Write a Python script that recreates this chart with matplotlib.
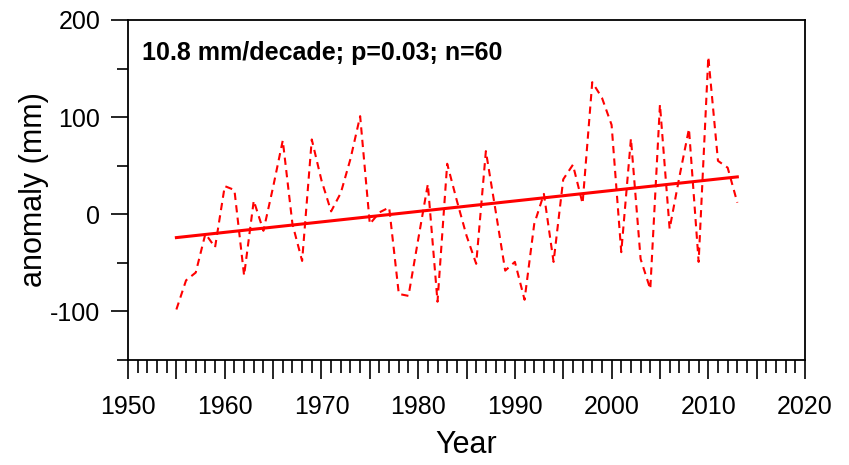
import numpy as np
import matplotlib
matplotlib.use("Agg")
import matplotlib.pyplot as plt
from matplotlib.ticker import MultipleLocator, FuncFormatter

plt.rcParams['font.family'] = ['Liberation Sans', 'DejaVu Sans']
plt.rcParams['axes.unicode_minus'] = False

# --- DATA ---
years: list[int] = list(range(1955, 2014))
anomaly: list[float] = [
    -98, -68, -60, -20, -34, 29, 25, -63, 14, -17,
    28, 76, -10, -48, 77, 35, 3, 22, 57, 101,
    -10, 2, 7, -82, -84, -26, 31, -90, 52, 14,
    -22, -51, 65, 4, -58, -49, -88, -10, 21, -49,
    36, 51, 11, 136, 120, 92, -39, 78, -46, -77,
    113, -15, 38, 88, -49, 162, 55, 48, 12,
]
trend_years: list[int] = [1955, 2013]
trend_values: list[float] = [-24, 38.5]
label_text: str = "10.8 mm/decade; p=0.03; n=60"

# --- PLOTTING ---
fig = plt.figure(figsize=(8.49, 4.65), dpi=100)
ax = fig.add_axes([0.1508, 0.2258, 0.7974, 0.7312])

ax.plot(years, anomaly, color='red', lw=1.5, linestyle=(0, (3.5, 2.5)))
ax.plot(trend_years, trend_values, color='red', lw=2.2)

ax.set_xlim(1950, 2020)
ax.set_ylim(-150, 200)

ax.xaxis.set_major_locator(MultipleLocator(5))
ax.xaxis.set_minor_locator(MultipleLocator(1))
ax.xaxis.set_major_formatter(FuncFormatter(lambda v, p: f"{int(v)}" if int(v) % 10 == 0 else ""))
ax.yaxis.set_major_locator(MultipleLocator(100))
ax.yaxis.set_minor_locator(MultipleLocator(50))

ax.tick_params(axis='x', which='major', direction='out', length=14, width=1.2, labelsize=18, pad=11)
ax.tick_params(axis='x', which='minor', direction='out', length=9, width=1.2)
ax.tick_params(axis='y', which='major', direction='out', length=12, width=1.2, labelsize=18, pad=8)
ax.tick_params(axis='y', which='minor', direction='out', length=8, width=1.2)
for s in ax.spines.values():
    s.set_linewidth(1.3)

ax.set_xlabel("Year", fontsize=22, labelpad=8)
ax.set_ylabel("anomaly (mm)", fontsize=22, labelpad=1)

ax.text(0.021, 0.903, label_text, transform=ax.transAxes, fontsize=18,
        fontweight='bold', va='center', ha='left')

fig.savefig("out.png", dpi=100)
